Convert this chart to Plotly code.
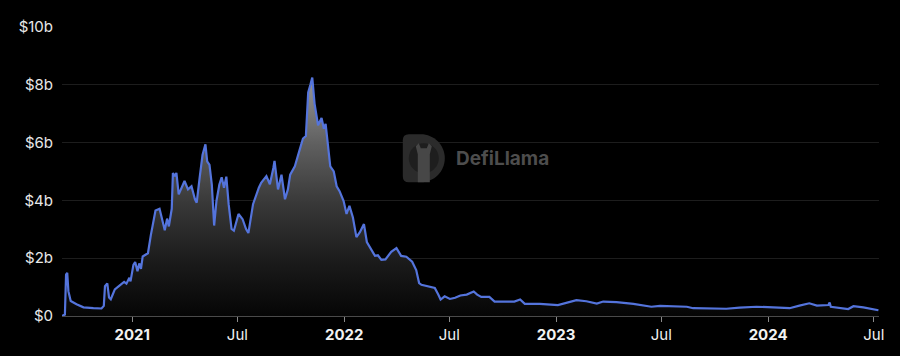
import plotly.graph_objects as go

# TVL series (billions of USD)
dates = [
    "2020-09-02", "2020-09-07", "2020-09-09", "2020-09-11", "2020-09-13", "2020-09-17",
    "2020-09-27", "2020-10-09", "2020-10-26", "2020-11-09", "2020-11-13", "2020-11-15",
    "2020-11-19", "2020-11-22", "2020-11-25", "2020-12-02", "2020-12-11", "2020-12-18",
    "2020-12-22", "2020-12-27", "2020-12-29", "2021-01-03", "2021-01-06", "2021-01-10",
    "2021-01-13", "2021-01-16", "2021-01-19", "2021-01-23", "2021-01-28", "2021-02-02",
    "2021-02-06", "2021-02-10", "2021-02-17", "2021-02-21", "2021-02-26", "2021-03-02",
    "2021-03-05", "2021-03-10", "2021-03-12", "2021-03-15", "2021-03-18", "2021-03-22",
    "2021-03-27", "2021-04-01", "2021-04-07", "2021-04-13", "2021-04-19", "2021-04-22",
    "2021-04-27", "2021-05-02", "2021-05-07", "2021-05-10", "2021-05-14", "2021-05-18",
    "2021-05-22", "2021-05-26", "2021-05-31", "2021-06-04", "2021-06-08", "2021-06-12",
    "2021-06-16", "2021-06-21", "2021-06-25", "2021-07-03", "2021-07-10", "2021-07-16",
    "2021-07-20", "2021-07-28", "2021-08-07", "2021-08-11", "2021-08-20", "2021-08-26",
    "2021-09-01", "2021-09-03", "2021-09-09", "2021-09-15", "2021-09-21", "2021-09-26",
    "2021-09-30", "2021-10-08", "2021-10-17", "2021-10-22", "2021-10-27", "2021-10-31",
    "2021-11-04", "2021-11-07", "2021-11-11", "2021-11-17", "2021-11-23", "2021-11-27",
    "2021-11-30", "2021-12-04", "2021-12-08", "2021-12-14", "2021-12-19", "2021-12-24",
    "2021-12-31", "2022-01-05", "2022-01-10", "2022-01-16", "2022-01-22", "2022-01-28",
    "2022-02-04", "2022-02-09", "2022-02-17", "2022-02-23", "2022-02-28", "2022-03-06",
    "2022-03-13", "2022-03-23", "2022-04-01", "2022-04-09", "2022-04-18", "2022-04-28",
    "2022-05-05", "2022-05-10", "2022-05-14", "2022-05-28", "2022-06-06", "2022-06-12",
    "2022-06-16", "2022-06-23", "2022-07-02", "2022-07-11", "2022-07-20", "2022-07-31",
    "2022-08-12", "2022-08-18", "2022-08-25", "2022-09-08", "2022-09-17", "2022-10-21",
    "2022-10-31", "2022-11-08", "2022-12-04", "2023-01-04", "2023-01-16", "2023-02-05",
    "2023-02-22", "2023-03-12", "2023-03-23", "2023-04-15", "2023-05-14", "2023-06-14",
    "2023-06-29", "2023-08-14", "2023-08-25", "2023-10-21", "2023-11-13", "2023-12-12",
    "2024-01-10", "2024-02-07", "2024-02-24", "2024-03-12", "2024-03-25", "2024-04-14",
    "2024-04-16", "2024-04-18", "2024-05-18", "2024-05-27", "2024-06-13", "2024-06-30",
    "2024-07-09",
]
tvl_b = [
    0.00, 0.05, 1.43, 1.49, 0.86, 0.52,
    0.41, 0.30, 0.27, 0.26, 0.35, 1.03,
    1.13, 0.64, 0.58, 0.92, 1.07, 1.18,
    1.12, 1.32, 1.20, 1.77, 1.87, 1.55,
    1.82, 1.63, 2.06, 2.12, 2.17, 2.80,
    3.20, 3.65, 3.71, 3.37, 2.97, 3.37,
    3.10, 3.71, 4.95, 4.84, 4.95, 4.21,
    4.44, 4.67, 4.38, 4.49, 4.04, 3.92,
    4.78, 5.57, 5.94, 5.35, 5.23, 4.55,
    3.13, 3.98, 4.55, 4.80, 4.44, 4.82,
    3.87, 3.01, 2.95, 3.53, 3.35, 3.01,
    2.87, 3.87, 4.44, 4.61, 4.84, 4.56,
    5.12, 5.37, 4.38, 4.89, 4.04, 4.38,
    4.89, 5.18, 5.80, 6.14, 6.23, 7.74,
    8.02, 8.25, 7.34, 6.60, 6.85, 6.48,
    6.65, 5.91, 5.18, 5.00, 4.49, 4.32,
    3.98, 3.53, 3.81, 3.41, 2.73, 2.90,
    3.18, 2.56, 2.28, 2.08, 2.10, 1.94,
    1.96, 2.22, 2.35, 2.08, 2.05, 1.88,
    1.59, 1.14, 1.08, 1.02, 0.97, 0.74,
    0.57, 0.68, 0.59, 0.63, 0.71, 0.74,
    0.85, 0.74, 0.66, 0.66, 0.50, 0.50,
    0.57, 0.42, 0.42, 0.38, 0.45, 0.55,
    0.51, 0.43, 0.50, 0.48, 0.42, 0.32,
    0.35, 0.32, 0.27, 0.25, 0.29, 0.32,
    0.30, 0.27, 0.36, 0.44, 0.36, 0.38,
    0.47, 0.32, 0.24, 0.34, 0.30, 0.25,
    0.20,
]

x_tickvals = ["2021-01-01", "2021-07-01", "2022-01-01", "2022-07-01",
              "2023-01-01", "2023-07-01", "2024-01-01", "2024-07-01"]
x_ticktext = ["<b>2021</b>", "Jul", "<b>2022</b>", "Jul",
              "<b>2023</b>", "Jul", "<b>2024</b>", "Jul"]
y_tickvals = [0, 2, 4, 6, 8, 10]
y_ticktext = ["$0", "$2b", "$4b", "$6b", "$8b", "$10b"]

LINE = "#5474dc"
FONT = "Inter, 'Noto Sans', sans-serif"

fig = go.Figure()
fig.add_trace(go.Scatter(
    x=dates, y=tvl_b, mode="lines",
    line=dict(color=LINE, width=2.2),
    fill="tozeroy",
    fillgradient=dict(
        type="vertical",
        start=0, stop=max(tvl_b),
        colorscale=[[0, "rgb(3,3,3)"], [0.24, "rgb(26,26,26)"], [0.48, "rgb(55,55,55)"],
                    [0.73, "rgb(95,95,95)"], [1, "rgb(150,150,150)"]],
    ),
    hoverinfo="skip",
    showlegend=False,
))

# DefiLlama watermark (decorative)
logo_x = (403 - 62) / 817.5
logo_y = (322 - 161) / 295
k = 0.5523 * 24
d_path = (f"M 0,-18 Q 0,-24 6,-24 L 18,-24 C {18 + k},-24 42,{-k} 42,0 "
          f"C 42,{k} {18 + k},24 18,24 L 6,24 Q 0,24 0,18 Z")
ring_r = 15
kr = 0.5523 * ring_r
ring_path = (f"M {21 - ring_r},0 C {21 - ring_r},{kr} {21 - kr},{ring_r} 21,{ring_r} "
             f"C {21 + kr},{ring_r} {21 + ring_r},{kr} {21 + ring_r},0 "
             f"C {21 + ring_r},{-kr} {21 + kr},{-ring_r} 21,{-ring_r} "
             f"C {21 - kr},{-ring_r} {21 - ring_r},{-kr} {21 - ring_r},0 Z")
llama_path = ("M 15,-24 L 15,4 L 13,12 L 16,15 L 18,10 L 24,10 L 26,15 L 29,12 "
              "L 27,4 L 27,-24 Z")
for p, c in [(d_path, "#2b2b2b"), (ring_path, "#1e1e1e"), (llama_path, "#474747")]:
    fig.add_shape(type="path", xref="paper", yref="paper",
                  xsizemode="pixel", ysizemode="pixel", xanchor=logo_x, yanchor=logo_y,
                  path=p, fillcolor=c, line=dict(width=0), layer="above")
fig.add_annotation(x=(454 - 62) / 817.5, y=logo_y, xref="paper", yref="paper",
                   xanchor="left", yanchor="middle", showarrow=False,
                   text="<b>DefiLlama</b>",
                   font=dict(family="Inter, 'Noto Sans', sans-serif", size=19, color="#4d4d4d"))

fig.update_layout(
    width=900, height=356,
    margin=dict(l=62, r=21, t=27, b=34),
    paper_bgcolor="#000000", plot_bgcolor="#000000",
    font=dict(family=FONT, size=15, color="#e8e8e8"),
    xaxis=dict(
        type="date",
        range=["2020-09-02", "2024-07-10"],
        tickmode="array", tickvals=x_tickvals, ticktext=x_ticktext,
        showgrid=False, zeroline=False,
        showline=True, linecolor="#4a4a4a", linewidth=1,
        ticks="outside", ticklen=5, tickcolor="#8a8a8a", tickwidth=1,
        tickfont=dict(size=15, color="#f2f2f2"),
    ),
    yaxis=dict(
        range=[0, 10],
        tickmode="array", tickvals=y_tickvals, ticktext=y_ticktext,
        showgrid=True, gridcolor="#1d1d1d", gridwidth=1,
        zeroline=False, showline=False,
        ticks="", ticklabelstandoff=8,
        tickfont=dict(size=15, color="#e8e8e8"),
    ),
)

fig.write_html("out.html")
